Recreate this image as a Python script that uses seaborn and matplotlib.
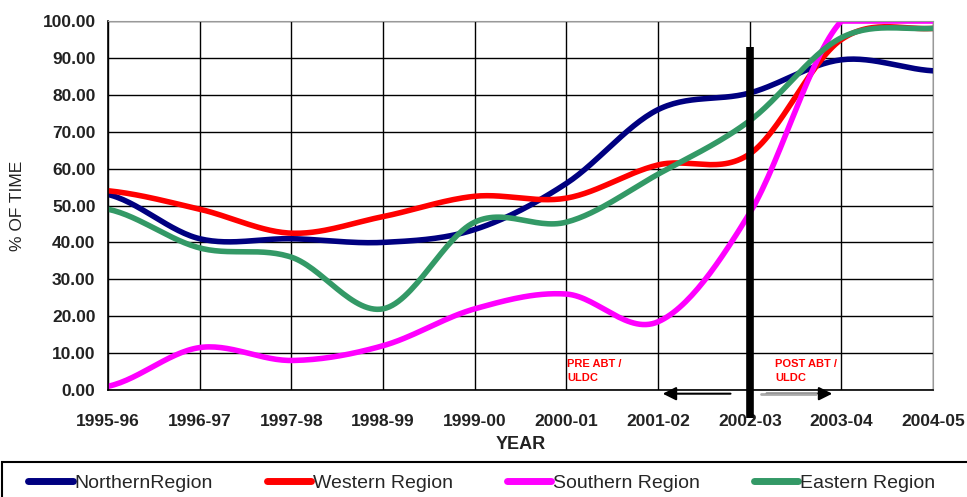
import numpy as np
import pandas as pd
import seaborn as sns
import matplotlib.pyplot as plt
from matplotlib.lines import Line2D
from matplotlib.patches import Rectangle

# data
years = ['1995-96', '1996-97', '1997-98', '1998-99', '1999-00',
         '2000-01', '2001-02', '2002-03', '2003-04', '2004-05']
northern = [53.0, 41.0, 41.0, 40.0, 43.5, 56.0, 76.0, 80.5, 89.5, 86.5]
western = [54.0, 49.0, 42.5, 47.0, 52.5, 52.0, 61.0, 64.0, 95.0, 98.0]
southern = [1.0, 11.5, 8.0, 12.0, 22.0, 26.0, 18.5, 48.0, 100.0, 100.0]
eastern = [49.0, 38.5, 36.0, 22.0, 45.5, 45.5, 58.5, 73.0, 95.5, 98.0]

series_names = ['NorthernRegion', 'Western Region', 'Southern Region', 'Eastern Region']
series_vals = [northern, western, southern, eastern]
colors = ['#000080', '#ff0000', '#ff00ff', '#339966']


# smooth like excel "smoothed line" (catmull-rom through the points)
def smooth(y, n=30):
    y = np.asarray(y, dtype=float)
    p = np.concatenate([[y[0]], y, [y[-1]]])
    xs, ys = [], []
    for i in range(len(y) - 1):
        p0, p1, p2, p3 = p[i], p[i + 1], p[i + 2], p[i + 3]
        t = np.linspace(0, 1, n, endpoint=False)
        yy = 0.5 * ((2 * p1) + (-p0 + p2) * t + (2 * p0 - 5 * p1 + 4 * p2 - p3) * t ** 2
                    + (-p0 + 3 * p1 - 3 * p2 + p3) * t ** 3)
        xs.append(i + t)
        ys.append(yy)
    xs.append([len(y) - 1])
    ys.append([y[-1]])
    # excel pins the curve at the axis maximum
    return np.concatenate(xs), np.minimum(np.concatenate(ys), 100)


rows = []
for name, vals in zip(series_names, series_vals):
    sx, sy = smooth(vals)
    rows.append(pd.DataFrame({'x': sx, 'y': sy, 'region': name}))
df = pd.concat(rows, ignore_index=True)

sns.set_style('white')
plt.rcParams['font.family'] = ['Liberation Sans', 'DejaVu Sans']
txt_col = '#222222'

fig = plt.figure(figsize=(9.67, 4.97), dpi=100)
ax = fig.add_axes([0.1117, 0.2153, 0.8533, 0.7424])

sns.lineplot(data=df, x='x', y='y', hue='region', palette=colors,
             linewidth=4.0, legend=False, ax=ax, sort=False, estimator=None)

ax.set_xlim(0, len(years) - 1)
ax.set_ylim(0, 100)
ax.set_xticks(range(len(years)))
ax.set_xticklabels(years, fontsize=12.5, fontweight='bold', color=txt_col)
ax.set_yticks(np.arange(0, 101, 10))
ax.set_yticklabels([f'{v:.2f}' for v in np.arange(0, 101, 10)],
                   fontsize=12.5, fontweight='bold', color=txt_col)
ax.tick_params(axis='y', length=7, width=1, direction='out', color='black', pad=2)
ax.tick_params(axis='x', length=5, width=1, direction='out', color='black', pad=12)
ax.grid(True, color='black', linewidth=1)
ax.set_axisbelow(True)
for s in ['top', 'right']:
    ax.spines[s].set_color('#999999')
for s in ['left', 'bottom']:
    ax.spines[s].set_color('black')
    ax.spines[s].set_linewidth(1.2)

ax.set_xlabel('YEAR', fontsize=13, fontweight='bold', color=txt_col)
ax.xaxis.set_label_coords(0.5, -0.126)
ax.set_ylabel('% OF TIME', fontsize=12.5, color=txt_col)
ax.yaxis.set_label_coords(-0.1, 0.5)

# ABT / ULDC marker
ax.plot([7, 7], [-7.6, 93], color='black', linewidth=5.5, solid_capstyle='butt', clip_on=False, zorder=5)
ax.annotate('', xy=(6.02, -1.0), xytext=(6.82, -1.0),
            arrowprops=dict(arrowstyle='-|>', color='black', lw=1.5, mutation_scale=20),
            annotation_clip=False, zorder=6)
ax.annotate('', xy=(7.93, -1.0), xytext=(7.15, -1.0),
            arrowprops=dict(arrowstyle='-|>', color='black', lw=1.5, mutation_scale=20),
            annotation_clip=False, zorder=6)
ax.plot([7.12, 7.72], [-1.0, -1.0], color='#aaaaaa', linewidth=2, clip_on=False, zorder=7)
ax.text(5.01, 5.1, 'PRE ABT /\nULDC', color='#ff0000', fontsize=8, fontweight='bold',
        va='center', ha='left', linespacing=1.5)
ax.text(7.28, 5.1, 'POST ABT /\nULDC', color='#ff0000', fontsize=8, fontweight='bold',
        va='center', ha='left', linespacing=1.5)

# legend box at the bottom
fig.patches.append(Rectangle((2 / 967, -0.01), 1.0, 35 / 497 + 0.01, transform=fig.transFigure,
                             fill=False, edgecolor='black', linewidth=1.5))
handles = [Line2D([0], [0], color=c, linewidth=5, solid_capstyle='round') for c in colors]
leg = fig.legend(handles, series_names, loc='center left', ncol=4,
                 bbox_to_anchor=(28 / 967, 14 / 497), frameon=False,
                 fontsize=14, handlelength=2.3, handletextpad=0.1,
                 borderpad=0, borderaxespad=0, columnspacing=2.75)

plt.savefig('out.png', dpi=100)
